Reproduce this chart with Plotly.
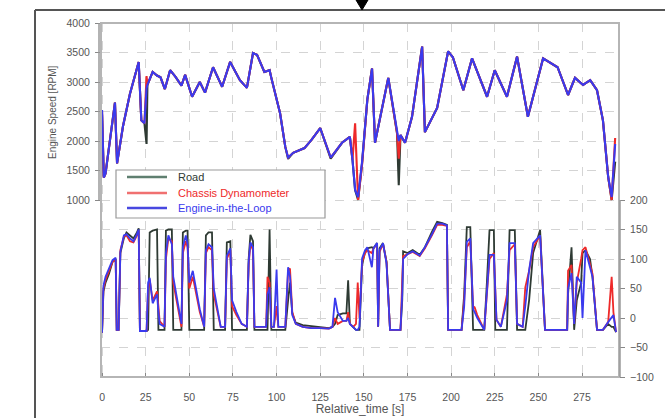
import plotly.graph_objects as go

# ---------------- data: engine speed [RPM] ----------------
t_spd = [0, 1, 2, 5, 7.4, 8.6, 12, 16, 21, 22.5,
         24.3, 25.5, 26, 29, 31.5, 33.5, 36, 39, 42, 45.5,
         47.6, 51.6, 56, 59, 63.6, 68.8, 73.4, 79, 83, 86.5,
         88.8, 93, 96, 97, 102, 105, 106.6, 109.5, 116, 120,
         125, 131, 137.5, 142, 143.5, 145, 146.7, 149, 152, 154.7,
         156.4, 164, 169, 170, 171, 173.6, 177.6, 183.4, 185, 192,
         198.3, 201, 207, 212, 220.6, 225, 232, 237.8, 244, 252.7,
         256, 261, 267, 271, 275.6, 279.7, 283.6, 287, 290, 292,
         294]
road_spd = [2450, 1380, 1450, 2100, 2650, 1620, 2250, 2800, 3340, 2350,
            2300, 1950, 2950, 3170, 3110, 3080, 2880, 3200, 3090, 2940,
            3120, 2750, 3000, 2820, 3250, 2920, 3340, 3030, 2900, 3490,
            3460, 3170, 3200, 3070, 2470, 1900, 1700, 1800, 1880, 2020,
            2220, 1700, 1970, 2070, 1680, 1170, 1000, 1630, 2700, 3230,
            1970, 3070, 2140, 1250, 2100, 1970, 2410, 3600, 2150, 2560,
            3520, 3420, 2860, 3400, 2750, 3200, 2750, 3430, 2410, 3400,
            3340, 3250, 2780, 3070, 2950, 3030, 2860, 2350, 1390, 1000,
            1650]
chassis_spd = [2500, 1380, 1450, 2100, 2650, 1620, 2250, 2800, 3340, 2350,
               2300, 3100, 2950, 3170, 3110, 3080, 2880, 3200, 3090, 2940,
               3120, 2750, 3000, 2820, 3250, 2920, 3340, 3030, 2900, 3490,
               3460, 3170, 3200, 3070, 2470, 1900, 1720, 1800, 1880, 2020,
               2220, 1720, 1970, 2070, 1680, 2300, 1000, 1600, 2700, 3230,
               1970, 3070, 2140, 1700, 2100, 1970, 2410, 3600, 2150, 2560,
               3520, 3420, 2860, 3400, 2750, 3200, 2750, 3430, 2410, 3400,
               3340, 3250, 2780, 3070, 2950, 3030, 2860, 2350, 1390, 1000,
               2050]
eil_spd = [2525, 1380, 1450, 2100, 2650, 1620, 2250, 2800, 3340, 2350,
           2300, 2900, 2950, 3170, 3110, 3080, 2880, 3200, 3090, 2940,
           3120, 2750, 3000, 2820, 3250, 2920, 3340, 3030, 2900, 3490,
           3460, 3170, 3200, 3070, 2470, 1900, 1720, 1800, 1880, 2020,
           2220, 1720, 1970, 2070, 1680, 1170, 1050, 1650, 2700, 3230,
           1970, 3070, 2140, 2000, 2100, 1970, 2410, 3600, 2150, 2560,
           3520, 3420, 2860, 3400, 2750, 3200, 2750, 3430, 2410, 3400,
           3340, 3250, 2780, 3070, 2950, 3030, 2860, 2350, 1390, 1050,
           1950]

# ---------------- data: engine torque [Nm] ----------------
t_trq = [0, 0.8, 2, 4, 6, 7.8, 8.4, 9.5, 10.5, 12.5, 14, 16, 18, 20, 21, 21.7,
         25.5, 26.4, 27.3, 29, 31.5, 32.3, 33, 35.8, 36.6, 38, 40, 40.8, 42,
         44, 45.5, 46.3, 48, 49, 50, 52, 54, 56, 58.5,
         59.5, 61, 63, 64, 66, 68, 70.5, 71.5, 73.5, 74.5,
         77, 80, 83, 84, 85, 86.5, 87.3, 90, 94, 94.8, 96, 97, 98.5, 100, 101, 103,
         105, 106.6, 107.7, 109, 111, 115, 120, 125, 130, 132,
         133.5, 135, 138, 140, 141, 142, 144, 145.5, 146.5, 147.5,
         149, 150.7, 152, 154.6, 155.5, 157.6, 158.2, 159, 161, 163,
         165, 168, 171, 172, 172.5, 175, 178, 182, 185, 189, 192, 195, 197.6, 198.3,
         202, 206, 207.5, 209, 211, 212.6, 213.5, 215, 219, 220.5,
         222, 224.5, 225.3, 226, 228.5, 232, 233.5, 236.5, 237.8, 241,
         242.5, 244.7, 247, 251, 253.8, 258, 266.5, 267, 269, 270.5,
         272, 274.5, 275.3, 277, 279.6, 281, 283.6, 287, 290, 292, 293, 294.5]
road_trq = [-25, 45, 60, 75, 95, 100, -20, -20, 110, 135, 145, 140, 135, 145, 152, -22,
            -22, -20, 145, 148, 150, -20, -20, -20, 148, 150, 150, -20, -20,
            -20, -20, 145, 148, 148, -20, -20, -20, -20, -20,
            140, 145, 145, -20, -20, -20, -20, 128, 130, -20,
            -20, -20, -20, 100, 141, 130, -20, -20, -20, -20, 150, -20, -20, -20, -20, -20,
            -20, 30, 60, 8, -8, -12, -14, -15, -17, -15,
            -10, 5, 8, 8, 64, -10, -15, -20, -20, -20,
            90, 112, 118, 120, 118, 127, -15, 118, 127, 95,
            -20, -20, -20, 30, 113, 110, 115, 107, 120, 146, 163, 161, 158, -20,
            -20, -20, 40, 154, 154, -20, -20, -20, -20, 60,
            149, 149, -20, -20, -20, -20, 149, 149, -20, -20,
            -20, 30, 110, 149, -20, -20, -20, 40, 120, -20,
            30, 60, 110, 115, 100, 70, -20, -20, -10, -15, -15, -24]
chassis_trq = [-25, 50, 65, 80, 95, 100, -20, -20, 115, 138, 140, 130, 128, 140, 148, -22,
               -22, 50, 65, 30, 45, 20, -5, -15, 100, 135, 130, 60, 40,
               10, -15, 110, 130, 120, 50, 70, 40, 10, -15,
               110, 120, 115, 40, 10, -15, -15, 100, 115, 20,
               5, -10, -15, 90, 125, 115, -15, -15, -15, 70, 60, -15, -15, 20, -15, -15,
               -15, 80, 84, 10, -10, -15, -17, -17, -18, -15,
               0, -10, -5, -5, 10, -10, -15, -10, 60, 0,
               95, 110, 115, 110, 118, 125, -15, 112, 125, 95,
               -20, -20, -20, 64, 105, 108, 112, 105, 118, 140, 158, 158, 156, -20,
               -20, -20, 30, 120, 130, 20, 18, 5, -20, 50,
               100, 110, 30, -3, -15, 40, 115, 125, -10, -15,
               52, 80, 120, 140, -20, -20, -20, 80, 90, -10,
               60, 100, 115, 120, 93, 75, -20, -20, -7, 70, 10, -24]
eil_trq = [-25, 55, 70, 85, 98, 102, -20, -20, 112, 140, 142, 135, 130, 142, 150, -22,
           -22, 60, 68, 25, 40, 10, -10, -15, 110, 140, 125, 70, 50,
           20, -10, 120, 140, 125, 60, 80, 50, 15, -15,
           115, 125, 120, 50, 15, -15, -15, 105, 118, 30,
           10, -10, -15, 95, 128, 120, -15, -15, -15, 40, 52, -15, -15, 82, -15, -15,
           -15, 86, 70, 5, -10, -15, -17, -17, -18, -15,
           34, 10, -5, -5, 0, -10, -15, -20, -20, -15,
           101, 115, 120, 86, 118, 127, -15, 115, 127, 92,
           -20, -20, -20, 40, 100, 108, 113, 106, 120, 142, 160, 160, 157, -20,
           -20, -20, 20, 129, 135, 15, 10, 0, -20, 40,
           107, 107, 30, -3, -15, 30, 127, 127, -10, -15,
           20, 81, 127, 140, -20, -20, -20, 50, 76, -10,
           70, 60, 0, 115, 86, 70, -20, -20, -7, 2, 5, -24]

series_names = ["Road", "Chassis Dynamometer", "Engine-in-the-Loop"]
series_colors = ["#2e3a33", "#ee2a2a", "#3a3aee"]
legend_line_colors = ["#5f7f70", "#f07070", "#4848e0"]

x_ticks = [0, 25, 50, 75, 100, 125, 150, 175, 200, 225, 250, 275]
spd_ticks = [1000, 1500, 2000, 2500, 3000, 3500, 4000]
trq_ticks = [-100, -50, 0, 50, 100, 150, 200]

# ---------------- figure ----------------
W, H = 665, 418
L, R, T, B = 101, 46, 23, 41
PW, PH = W - L - R, H - T - B


def px(xp):
    return (xp - L) / PW


def py(yp):
    return (H - B - yp) / PH


fig = go.Figure()
spd_series = [road_spd, chassis_spd, eil_spd]
trq_series = [road_trq, chassis_trq, eil_trq]
for name, col, ys in zip(series_names, series_colors, spd_series):
    fig.add_trace(go.Scatter(x=t_spd, y=ys, mode="lines", name=name,
                             line=dict(color=col, width=2.1), yaxis="y",
                             showlegend=False))
for name, col, ys in zip(series_names, series_colors, trq_series):
    fig.add_trace(go.Scatter(x=t_trq, y=ys, mode="lines", name=name,
                             line=dict(color=col, width=1.8), yaxis="y2",
                             showlegend=False))

FONT = "Liberation Sans, Arial"
tick_font = dict(family=FONT, size=10.5, color="#555")
grid = dict(showgrid=True, gridcolor="#d4d4d4", griddash="dash", gridwidth=1)

fig.update_layout(
    width=W, height=H,
    margin=dict(l=L, r=R, t=T, b=B, autoexpand=False),
    paper_bgcolor="white", plot_bgcolor="white",
    showlegend=False,
    xaxis=dict(range=[-0.6, 296.2], tickvals=x_ticks, ticks="inside", ticklen=4,
               tickcolor="#888", tickfont=tick_font, zeroline=False,
               ticklabelstandoff=12, automargin=False,
               title=dict(text="Relative_time [s]",
                          font=dict(family=FONT, size=12, color="#555"),
                          standoff=2),
               **grid),
    yaxis=dict(range=[-2000, 4000], tickvals=spd_ticks, ticks="outside", ticklen=5,
               tickcolor="#888", tickfont=tick_font, zeroline=False, automargin=False,
               ticklabelstandoff=3, **grid),
    yaxis2=dict(range=[-100, 500], tickvals=trq_ticks, ticks="outside", ticklen=5,
                tickcolor="#888", tickfont=tick_font, zeroline=False, automargin=False,
                overlaying="y", side="right", ticklabelstandoff=3, **grid),
)

shapes = []
shapes.append(dict(type="rect", xref="paper", yref="paper", x0=0, x1=1, y0=0, y1=1,
                   line=dict(color="#b5b5b5", width=2)))
shapes.append(dict(type="line", xref="paper", yref="y", x0=px(99), x1=px(99),
                   y0=1000, y1=4000, line=dict(color="#9a9a9a", width=1.5)))
shapes.append(dict(type="line", xref="paper", yref="y2", x0=px(620), x1=px(620),
                   y0=-100, y1=200, line=dict(color="#9a9a9a", width=1.5)))
shapes.append(dict(type="line", xref="paper", yref="paper", x0=px(35), x1=px(35),
                   y0=py(10), y1=py(420), line=dict(color="#555", width=2)))
shapes.append(dict(type="line", xref="paper", yref="paper", x0=px(35), x1=px(667),
                   y0=py(10), y1=py(10), line=dict(color="#555", width=2)))
shapes.append(dict(type="path", xref="paper", yref="paper",
                   path=f"M {px(356)} {py(0)} L {px(368)} {py(0)} L {px(362)} {py(10)} Z",
                   fillcolor="black", line=dict(color="black", width=1)))
shapes.append(dict(type="rect", xref="paper", yref="paper", x0=px(116), x1=px(325),
                   y0=py(218), y1=py(170), fillcolor="white",
                   line=dict(color="#999", width=1.2), layer="above"))
annotations = []
leg_rows = [177, 193, 208]
for name, lc, tc, yr in zip(series_names, legend_line_colors, series_colors, leg_rows):
    shapes.append(dict(type="line", xref="paper", yref="paper", x0=px(127), x1=px(167),
                       y0=py(yr), y1=py(yr), line=dict(color=lc, width=2.5), layer="above"))
    annotations.append(dict(xref="paper", yref="paper", x=px(176), y=py(yr),
                            xanchor="left", yanchor="middle", showarrow=False,
                            text=name, font=dict(family=FONT, size=11, color=tc)))
annotations.append(dict(xref="paper", yref="paper", x=px(53), y=py(112),
                        xanchor="center", yanchor="middle", showarrow=False, textangle=-90,
                        text="Engine Speed [RPM]",
                        font=dict(family=FONT, size=10, color="#555")))
fig.update_layout(shapes=shapes, annotations=annotations)

fig.write_html("out.html", config={"displayModeBar": False},
               post_script="document.body.style.margin='0px';")
